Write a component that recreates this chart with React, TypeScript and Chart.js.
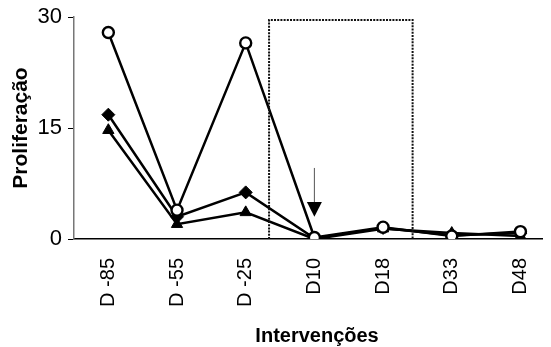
import React, { useEffect, useRef } from "react";
import { Chart, registerables } from "chart.js";

Chart.register(...registerables);

const categories = ["D -85", "D -55", "D -25", "D10", "D18", "D33", "D48"];
const circleSeries = [27.9, 3.9, 26.5, 0.2, 1.6, 0.4, 1.0];
const diamondSeries = [16.8, 3.0, 6.3, 0.1, 1.5, 0.5, 0.8];
const triangleSeries = [14.7, 2.0, 3.6, 0.0, 1.4, 0.8, 0.4];
const yTicks = [0, 15, 30];
const yTitle = "Proliferação";
const xTitle = "Intervenções";

// annotation positions in data units
const boxRange = { x0: 2.34, x1: 4.43, yTop: 29.6 };
const arrowSpec = { x: 3, lineTop: 9.6, headTop: 5.0, tip: 3.0 };

const FONT = "'Liberation Sans', Arial, sans-serif";

const toPoints = (vals: number[]) => vals.map((v, i) => ({ x: i, y: v }));

const annotationPlugin = {
  id: "annotations",
  afterDatasetsDraw(chart: any) {
    const { ctx, scales } = chart;
    const xs = scales.x;
    const ys = scales.y;
    ctx.save();
    // dotted rectangle
    const l = xs.getPixelForValue(boxRange.x0);
    const r = xs.getPixelForValue(boxRange.x1);
    const t = ys.getPixelForValue(boxRange.yTop);
    const b = ys.getPixelForValue(0);
    ctx.strokeStyle = "#111";
    ctx.lineWidth = 2;
    ctx.setLineDash([2, 1.2]);
    ctx.beginPath();
    ctx.moveTo(l, b);
    ctx.lineTo(l, t);
    ctx.lineTo(r, t);
    ctx.lineTo(r, b);
    ctx.stroke();
    ctx.setLineDash([]);
    // arrow
    const ax = xs.getPixelForValue(arrowSpec.x);
    const y1 = ys.getPixelForValue(arrowSpec.lineTop);
    const y2 = ys.getPixelForValue(arrowSpec.headTop);
    const y3 = ys.getPixelForValue(arrowSpec.tip);
    ctx.strokeStyle = "#555";
    ctx.lineWidth = 1;
    ctx.beginPath();
    ctx.moveTo(ax, y1);
    ctx.lineTo(ax, y2);
    ctx.stroke();
    ctx.fillStyle = "#000";
    ctx.beginPath();
    ctx.moveTo(ax - 7.5, y2);
    ctx.lineTo(ax + 7.5, y2);
    ctx.lineTo(ax, y3);
    ctx.closePath();
    ctx.fill();
    ctx.restore();
  },
  afterDraw(chart: any) {
    const { ctx, chartArea } = chart;
    ctx.save();
    ctx.fillStyle = "#000";
    ctx.font = `bold 20px ${FONT}`;
    ctx.textAlign = "center";
    ctx.textBaseline = "alphabetic";
    ctx.fillText(xTitle, (chartArea.left + chartArea.right) / 2 + 8.5, chart.height - 5);
    ctx.restore();
  },
};

export default function App() {
  const ref = useRef<HTMLCanvasElement | null>(null);

  useEffect(() => {
    if (!ref.current) return;
    const line = { borderColor: "#000", borderWidth: 2.5, tension: 0 };
    const chart = new Chart(ref.current, {
      type: "line",
      data: {
        datasets: [
          {
            ...line,
            label: "circle",
            data: toPoints(circleSeries),
            pointStyle: "circle",
            pointRadius: 5.5,
            pointBorderWidth: 2.4,
            pointBackgroundColor: "#fff",
            pointBorderColor: "#000",
          },
          {
            ...line,
            label: "diamond",
            data: toPoints(diamondSeries),
            pointStyle: "rectRot",
            pointRadius: 6.5,
            pointBorderWidth: 1,
            pointBackgroundColor: "#000",
            pointBorderColor: "#000",
          },
          {
            ...line,
            label: "triangle",
            data: toPoints(triangleSeries),
            pointStyle: "triangle",
            pointRadius: 6.5,
            pointBorderWidth: 1,
            pointBackgroundColor: "#000",
            pointBorderColor: "#000",
          },
        ],
      },
      options: {
        animation: false,
        responsive: false,
        devicePixelRatio: 1,
        layout: { padding: { top: 9, right: 0, left: 0, bottom: 0 } },
        plugins: { legend: { display: false }, tooltip: { enabled: false } },
        scales: {
          x: {
            type: "linear",
            min: -0.5,
            max: 6.33,
            afterBuildTicks: (scale: any) => {
              scale.ticks = categories.map((_, i) => ({ value: i }));
            },
            afterFit: (scale: any) => {
              scale.height = 108;
              scale.paddingLeft = 0;
              scale.paddingRight = 0;
            },
            grid: { display: true, drawOnChartArea: false, drawTicks: false },
            border: { display: true, color: "#000", width: 1.5 },
            ticks: {
              autoSkip: false,
              minRotation: 90,
              maxRotation: 90,
              padding: 19,
              color: "#000",
              font: { family: FONT, size: 20 },
              callback: (v: any) => categories[Math.round(Number(v))] ?? "",
            },
          },
          y: {
            min: 0,
            max: 30,
            afterBuildTicks: (scale: any) => {
              scale.ticks = yTicks.map((v) => ({ value: v }));
            },
            afterFit: (scale: any) => {
              scale.width = 66;
              scale.paddingTop = 0;
              scale.paddingBottom = 0;
            },
            grid: {
              display: true,
              drawOnChartArea: false,
              drawTicks: true,
              tickLength: 6,
              color: "#000",
              tickColor: "#000",
            },
            border: { display: true, color: "#777", width: 1.5 },
            ticks: {
              padding: 6,
              color: "#000",
              font: { family: FONT, size: 22 },
            },
            title: {
              display: true,
              text: yTitle,
              color: "#000",
              font: { family: FONT, size: 21, weight: "bold" },
              padding: { top: 1, bottom: 0 },
            },
          },
        },
      },
      plugins: [annotationPlugin],
    });
    return () => chart.destroy();
  }, []);

  return (
    <div style={{ width: 543, height: 339 }}>
      <canvas ref={ref} width={543} height={339} style={{ display: "block" }} />
    </div>
  );
}
